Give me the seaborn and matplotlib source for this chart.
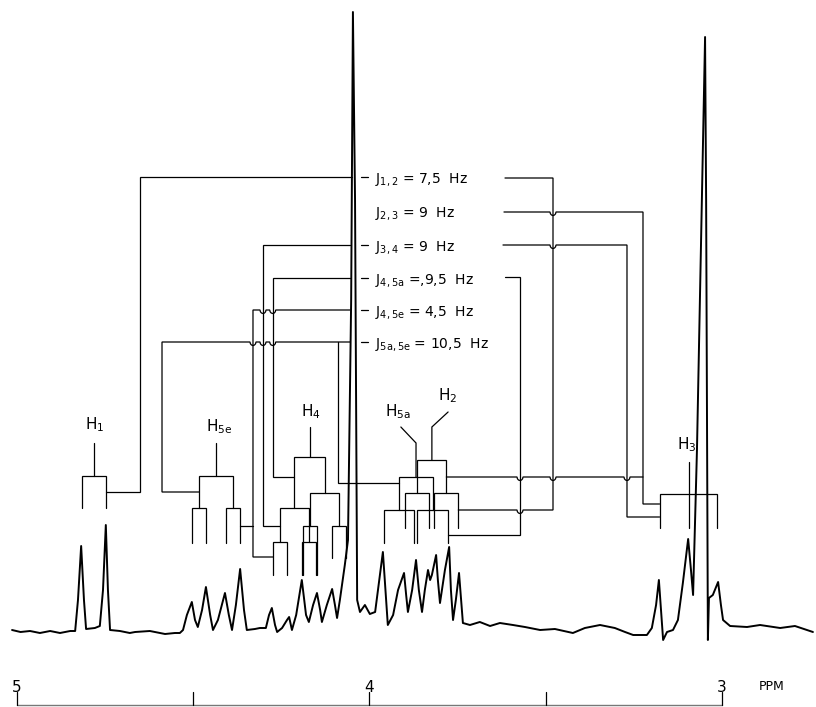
import matplotlib
matplotlib.use("Agg")
import matplotlib.pyplot as plt
import numpy as np
import pandas as pd
import seaborn as sns

# spectrometer frequency (Hz per ppm), used to turn J values into widths
MHZ = 110.0

trace_ppm = [5.014, 4.990, 4.963, 4.935, 4.906, 4.878, 4.864, 4.849, 4.835, 4.827,
             4.818, 4.810, 4.804, 4.779, 4.765, 4.756, 4.748, 4.742, 4.736, 4.708,
             4.680, 4.665, 4.623, 4.580, 4.552, 4.538, 4.529, 4.518, 4.504, 4.495,
             4.487, 4.475, 4.464, 4.452, 4.444, 4.430, 4.410, 4.399, 4.390, 4.379,
             4.367, 4.356, 4.348, 4.325, 4.311, 4.294, 4.285, 4.277, 4.268, 4.262,
             4.248, 4.234, 4.228, 4.220, 4.208, 4.192, 4.180, 4.172, 4.160, 4.149,
             4.140, 4.135, 4.121, 4.106, 4.098, 4.092, 4.084, 4.070, 4.061, 4.052,
             4.047, 4.041, 4.035, 4.027, 4.013, 3.999, 3.984, 3.976, 3.962, 3.953,
             3.948, 3.933, 3.919, 3.902, 3.896, 3.891, 3.879, 3.868, 3.860, 3.851,
             3.843, 3.834, 3.828, 3.823, 3.811, 3.806, 3.800, 3.786, 3.774, 3.769,
             3.763, 3.755, 3.746, 3.740, 3.735, 3.715, 3.687, 3.658, 3.630, 3.593,
             3.559, 3.516, 3.474, 3.423, 3.389, 3.346, 3.304, 3.275, 3.252, 3.213,
             3.199, 3.187, 3.179, 3.173, 3.167, 3.156, 3.139, 3.125, 3.111, 3.096,
             3.088, 3.082, 3.071, 3.060, 3.048, 3.045, 3.040, 3.037, 3.026, 3.011,
             3.003, 2.997, 2.977, 2.929, 2.892, 2.835, 2.793, 2.742]
trace_int = [0, -2, -1, -3, -1, -3, -2, -1, -1, 30,
             84, 30, 1, 2, 4, 40, 105, 40, 0, -1,
             -3, -2, -1, -4, -3, -3, 0, 15, 28, 10,
             3, 20, 43, 15, 0, 10, 37, 15, 0, 25,
             61, 20, 0, 1, 2, 2, 15, 22, 5, -2,
             2, 10, 13, 0, 15, 50, 15, 8, 25, 37,
             20, 8, 25, 41, 25, 12, 30, 65, 90, 330,
             618, 430, 30, 18, 25, 16, 18, 40, 78, 30,
             5, 15, 40, 57, 35, 18, 40, 70, 40, 18,
             40, 60, 50, 55, 75, 50, 27, 60, 83, 40,
             10, 30, 57, 30, 7, 5, 8, 4, 7, 5,
             3, 0, 1, -3, 2, 5, 2, -2, -5, -5,
             2, 25, 50, 20, -10, -2, 0, 10, 47, 91,
             60, 35, 180, 380, 593, 430, -10, 32, 35, 48,
             25, 10, 4, 3, 5, 2, 4, -2]

# splitting-tree bars: centre (ppm), J (Hz), bar height, left/right leg ends
bar_center = [4.782, 4.435, 4.483, 4.388, 4.170, 4.213, 4.127, 4.254, 4.172,
              4.168, 4.086, 3.823, 3.864, 3.782, 3.868, 3.916, 3.821, 3.095]
bar_j = [7.5, 10.5, 4.5, 4.5, 9.5, 9.0, 9.0, 4.5, 4.5,
         4.5, 4.5, 9.0, 7.5, 7.5, 10.5, 9.5, 9.5, 18.0]
bar_y = [154, 154, 122, 122, 173, 122, 137, 88, 88,
         104, 104, 170, 137, 137, 153, 120, 120, 136]
bar_bottom_left = [122, 122, 87, 87, 122, 88, 104, 55, 55,
                   55, 72, 137, 102, 102, 120, 87, 87, 102]
bar_bottom_right = [122, 122, 87, 87, 137, 88, 104, 55, 55,
                    55, 72, 137, 102, 102, 120, 87, 87, 102]

# stems above each multiplet and the proton labels
stem_x = [[4.782, 4.782], [4.435, 4.435], [4.170, 4.170],
          [3.777, 3.823, 3.823], [3.911, 3.868, 3.868], [3.095, 3.095]]
stem_h = [[187, 154], [187, 154], [203, 173],
          [218, 203, 170], [203, 187, 153], [168, 102]]
proton_labels = [r"H$_1$", r"H$_{\mathrm{5e}}$", r"H$_4$",
                 r"H$_2$", r"H$_{\mathrm{5a}}$", r"H$_3$"]
proton_x = [4.781, 4.427, 4.166, 3.777, 3.919, 3.100]
proton_h = [205, 203, 218, 234, 218, 185]

# coupling connectors (polylines)
conn_x = [[4.748, 4.651, 4.651, 4.0496],
          [3.6156, 3.4794, 3.4794, 3.748],
          [3.6185, 3.2241, 3.2241, 3.177],
          [3.782, 3.2241],
          [3.6213, 3.2695, 3.2695, 3.177],
          [4.0553, 4.3021, 4.3021, 4.254],
          [4.0553, 4.2745, 4.2745, 4.213],
          [3.6156, 3.573, 3.573, 3.778],
          [4.0553, 4.3305, 4.3305, 4.2745],
          [4.3675, 4.3305],
          [4.0553, 4.5886, 4.5886, 4.4827],
          [4.0893, 4.0893, 3.9157]]
conn_h = [[138, 138, 453, 453],
          [452, 452, 120, 120],
          [418, 418, 126, 126],
          [153, 153],
          [385, 385, 113, 113],
          [385, 385, 104, 104],
          [352, 352, 153, 153],
          [353, 353, 95, 95],
          [320, 320, 73, 73],
          [104, 104],
          [288, 288, 138, 138],
          [288, 147, 147]]

# where a horizontal connector hops over a vertical one
bump_x = [3.4794, 3.4794, 3.573, 3.4794, 3.2695, 3.573,
          4.3021, 4.2745, 4.3305, 4.3021, 4.2745]
bump_h = [418, 385, 153, 153, 153, 120,
          320, 320, 288, 288, 288]

# coupling constant labels
j_labels = [r"J$_{\mathrm{1,2}}$ = 7,5  Hz", r"J$_{\mathrm{2,3}}$ = 9  Hz",
            r"J$_{\mathrm{3,4}}$ = 9  Hz", r"J$_{\mathrm{4,5a}}$ =,9,5  Hz",
            r"J$_{\mathrm{4,5e}}$ = 4,5  Hz", r"J$_{\mathrm{5a,5e}}$ = 10,5  Hz"]
j_h = [453, 419, 385, 352, 320, 288]
j_dash = [True, False, True, True, True, True]

# ppm scale
scale_ticks = [5.0, 4.5, 4.0, 3.5, 3.0]
scale_labels = ["5", "", "4", "", "3"]


def with_bumps(xs, hs, r_x=0.0085, r_h=3.5):
    out_x, out_h = [xs[0]], [hs[0]]
    for x0, h0, x1, h1 in zip(xs[:-1], hs[:-1], xs[1:], hs[1:]):
        if h0 == h1:
            lo, hi = sorted((x0, x1))
            hits = sorted([bx for bx, bh in zip(bump_x, bump_h)
                           if bh == h0 and lo < bx < hi], reverse=x0 > x1)
            sgn = 1 if x1 > x0 else -1
            for bx in hits:
                for a in np.linspace(np.pi, 2 * np.pi, 7):
                    out_x.append(bx + sgn * r_x * np.cos(a))
                    out_h.append(h0 + r_h * np.sin(a))
        out_x.append(x1)
        out_h.append(h1)
    return out_x, out_h


sns.set_style("white")
plt.rcParams["font.family"] = ["DejaVu Sans"]
plt.rcParams["text.color"] = "black"

fig = plt.figure(figsize=(8.16, 7.07), dpi=100)
ax = fig.add_axes([0, 0, 1, 1])

spec = pd.DataFrame({"ppm": trace_ppm, "intensity": trace_int})
sns.lineplot(data=spec, x="ppm", y="intensity", sort=False, estimator=None,
             color="black", linewidth=1.4, ax=ax)

tree_kw = dict(color="black", linewidth=0.9, solid_joinstyle="miter")
for c, j, y, bl, br in zip(bar_center, bar_j, bar_y, bar_bottom_left, bar_bottom_right):
    half = j / MHZ / 2
    ax.plot([c + half, c + half, c - half, c - half], [bl, y, y, br], **tree_kw)

for xs, hs in zip(stem_x, stem_h):
    ax.plot(xs, hs, **tree_kw)

for xs, hs in zip(conn_x, conn_h):
    bx, bh = with_bumps(xs, hs)
    ax.plot(bx, bh, **tree_kw)

for lab, x, h in zip(proton_labels, proton_x, proton_h):
    ax.text(x, h, lab, ha="center", va="center", fontsize=11, color="black")

for lab, h, dash in zip(j_labels, j_h, j_dash):
    if dash:
        ax.plot([4.0241, 4.0043], [h, h], **tree_kw)
    ax.text(3.9844, h - 6, lab, ha="left", va="baseline", fontsize=10, color="black")

# scale bar
ax.plot([5.0, 3.0], [-75, -75], color="#777777", linewidth=1.0)
for t, lab in zip(scale_ticks, scale_labels):
    ax.plot([t, t], [-75, -62], color="black", linewidth=0.9)
    if lab:
        ax.text(t, -57, lab, ha="center", va="center", fontsize=11, color="black")
ax.text(2.858, -57, "PPM", ha="center", va="center", fontsize=9, color="black")

ax.set_xlim(5.0482, 2.7333)
ax.set_ylim(-77, 630)
ax.set_axis_off()

fig.savefig("out.png", dpi=100)
